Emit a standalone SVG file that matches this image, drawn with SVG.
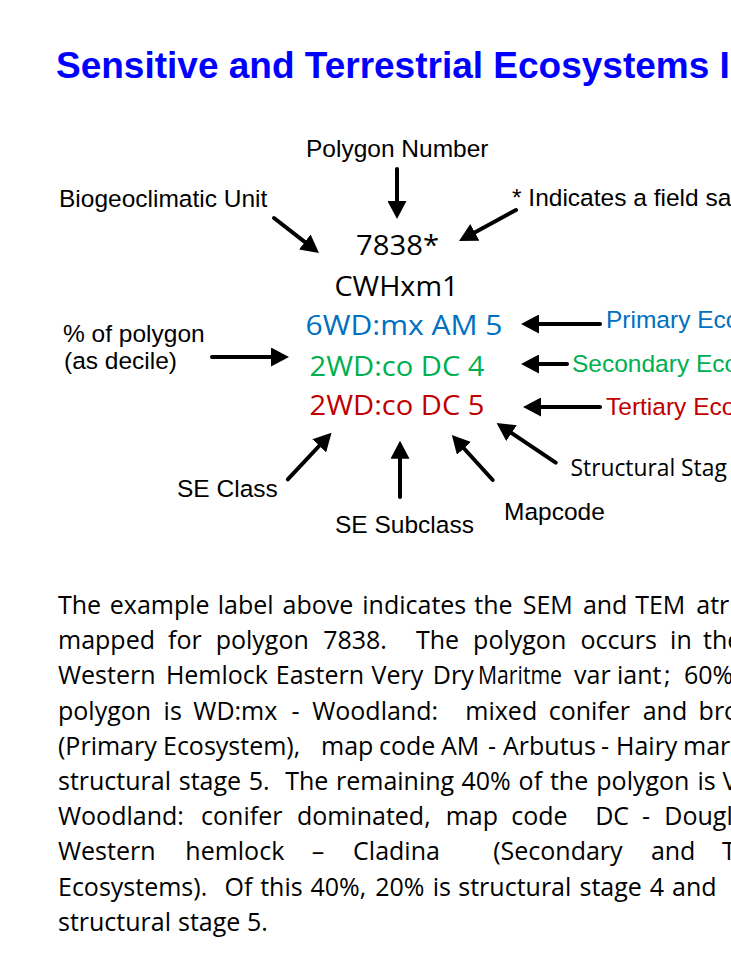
<svg xmlns="http://www.w3.org/2000/svg" width="731" height="969" viewBox="0 0 731 969">
  <style>
    .title { font-family: "Liberation Sans", Arial, sans-serif; font-weight: bold; font-size: 37px; fill: #0000FF; }
    .lbl { font-family: "Liberation Sans", Arial, sans-serif; font-size: 24.5px; fill: #000; }
    .code { font-family: "Open Sans", "Liberation Sans", sans-serif; font-size: 27.5px; fill: #000; }
    .cal { font-family: "Open Sans", "Liberation Sans", sans-serif; font-size: 22.8px; fill: #000; }
    .para { font-family: "Open Sans", "Liberation Sans", sans-serif; font-size: 25px; fill: #000; }
    .blue { fill: #0070C0; }
    .green { fill: #00B050; }
    .red { fill: #C00000; }
    .arrow { stroke: #000; stroke-width: 4; stroke-linecap: round; fill: none; marker-end: url(#ah); }
  </style>
  <defs>
    <marker id="ah" markerUnits="userSpaceOnUse" viewBox="0 0 18 19" markerWidth="18" markerHeight="19" refX="8" refY="9.5" orient="auto">
      <path d="M0,0 L18,9.5 L0,19 Z" fill="#000"/>
    </marker>
  </defs>
  <rect width="731" height="969" fill="#fff"/>

  <g id="title">
    <text class="title" x="56" y="78">Sensitive and Terrestrial Ecosystems I</text>
  </g>

  <!-- central map label -->
  <g id="label-polygon-number-value">
    <text class="code" x="356" y="255" textLength="83" lengthAdjust="spacingAndGlyphs">7838*</text>
  </g>
  <g id="label-bec-value">
    <text class="code" x="334.5" y="296" textLength="124" lengthAdjust="spacingAndGlyphs">CWHxm1</text>
  </g>
  <g id="label-primary">
    <text class="code blue" x="305.5" y="335" textLength="197" lengthAdjust="spacingAndGlyphs">6WD:mx AM 5</text>
  </g>
  <g id="label-secondary">
    <text class="code green" x="309.5" y="376" textLength="175" lengthAdjust="spacingAndGlyphs">2WD:co DC 4</text>
  </g>
  <g id="label-tertiary">
    <text class="code red" x="309.5" y="415" textLength="175" lengthAdjust="spacingAndGlyphs">2WD:co DC 5</text>
  </g>

  <!-- callout texts -->
  <g id="polygon-number">
    <text class="lbl" x="306" y="157">Polygon Number</text>
  </g>
  <g id="biogeoclimatic-unit">
    <text class="lbl" x="59" y="207">Biogeoclimatic Unit</text>
  </g>
  <g id="field-sample">
    <text class="lbl" x="512" y="206">* Indicates a field sa</text>
  </g>
  <g id="percent-of-polygon">
    <text class="lbl" x="63" y="342">% of polygon</text>
    <text class="lbl" x="64" y="369">(as decile)</text>
  </g>
  <g id="primary-ecosystem">
    <text class="lbl blue" x="606" y="328">Primary Eco</text>
  </g>
  <g id="secondary-ecosystem">
    <text class="lbl green" x="572" y="372">Secondary Eco</text>
  </g>
  <g id="tertiary-ecosystem">
    <text class="lbl red" x="606" y="415">Tertiary Eco</text>
  </g>
  <g id="structural-stage">
    <text class="cal" x="570.5" y="476">Structural Stag</text>
  </g>
  <g id="se-class">
    <text class="lbl" x="177" y="497">SE Class</text>
  </g>
  <g id="se-subclass">
    <text class="lbl" x="335" y="533">SE Subclass</text>
  </g>
  <g id="mapcode">
    <text class="lbl" x="504" y="520">Mapcode</text>
  </g>

  <g id="connectors">
    <line class="arrow" x1="397" y1="169" x2="397" y2="209"/>
    <line class="arrow" x1="274" y1="218" x2="311.1" y2="246.9"/>
    <line class="arrow" x1="516" y1="210" x2="467.8" y2="236.2"/>
    <line class="arrow" x1="212" y1="357" x2="279" y2="357"/>
    <line class="arrow" x1="600" y1="324" x2="531" y2="324"/>
    <line class="arrow" x1="567" y1="364" x2="531" y2="364"/>
    <line class="arrow" x1="600" y1="407" x2="533" y2="407"/>
    <line class="arrow" x1="555.7" y1="462.7" x2="504.9" y2="428.6"/>
    <line class="arrow" x1="492.7" y1="480" x2="458.6" y2="442.5"/>
    <line class="arrow" x1="400" y1="497" x2="400" y2="450.7"/>
    <line class="arrow" x1="287.8" y1="479.3" x2="324.7" y2="440"/>
  </g>

  <!-- explanatory paragraph, justified word by word -->
  <g id="description">
    <text class="para" y="614"><tspan x="58">The</tspan><tspan x="109.8">example</tspan><tspan x="217.8">label</tspan><tspan x="282.5">above</tspan><tspan x="362.3">indicates</tspan><tspan x="474.3">the</tspan><tspan x="522.7">SEM</tspan><tspan x="582.9">and</tspan><tspan x="635.2">TEM</tspan><tspan x="696.3">atr</tspan></text>
    <text class="para" y="649.2"><tspan x="58">mapped</tspan><tspan x="168.1">for</tspan><tspan x="215.7">polygon</tspan><tspan x="323.2">7838.</tspan><tspan x="416">The</tspan><tspan x="473.1">polygon</tspan><tspan x="580.5">occurs</tspan><tspan x="670.1">in</tspan><tspan x="703">the</tspan></text>
    <text class="para" y="684.4"><tspan x="58">Western</tspan><tspan x="165.9">Hemlock</tspan><tspan x="275.8">Eastern</tspan><tspan x="371.6">Very</tspan><tspan x="432.8">Dry</tspan></text>
    <text class="para" x="478" y="684.4" textLength="84" lengthAdjust="spacingAndGlyphs">Maritme</text>
    <text class="para" y="684.4"><tspan x="574">var</tspan><tspan x="617">iant</tspan><tspan x="664">;</tspan><tspan x="684">60%</tspan></text>
    <text class="para" y="719.6"><tspan x="58">polygon</tspan><tspan x="163.6">is</tspan><tspan x="193.3">WD:mx</tspan><tspan x="291.6">-</tspan><tspan x="312.2">Woodland:</tspan><tspan x="465.3">mixed</tspan><tspan x="548.7">conifer</tspan><tspan x="642.7">and</tspan><tspan x="698.6">bro</tspan></text>
    <text class="para" y="754.8"><tspan x="58">(Primary</tspan><tspan x="163">Ecosystem),</tspan><tspan x="321">map</tspan><tspan x="379">code</tspan><tspan x="441">AM</tspan><tspan x="488">-</tspan><tspan x="503">Arbutus</tspan><tspan x="601">-</tspan><tspan x="616">Hairy</tspan><tspan x="683">mar</tspan></text>
    <text class="para" y="790"><tspan x="58">structural</tspan><tspan x="178.8">stage</tspan><tspan x="248.7">5.</tspan><tspan x="285.2">The</tspan><tspan x="336">remaining</tspan><tspan x="461.5">40%</tspan><tspan x="518.6">of</tspan><tspan x="549.9">the</tspan><tspan x="596.3">polygon</tspan><tspan x="697.4">is</tspan><tspan x="722.5">V</tspan></text>
    <text class="para" y="825.2"><tspan x="58">Woodland:</tspan><tspan x="201.1">conifer</tspan><tspan x="296.9">dominated,</tspan><tspan x="445.7">map</tspan><tspan x="511.2">code</tspan><tspan x="595.2">DC</tspan><tspan x="641.9">-</tspan><tspan x="664.3">Dougl</tspan></text>
    <text class="para" y="860.4"><tspan x="58">Western</tspan><tspan x="185.3">hemlock</tspan><tspan x="311.7">–</tspan><tspan x="353.1">Cladina</tspan><tspan x="493.2">(Secondary</tspan><tspan x="650.9">and</tspan><tspan x="721.9">T</tspan></text>
    <text class="para" y="895.6"><tspan x="58">Ecosystems).</tspan><tspan x="224.6">Of</tspan><tspan x="260.2">this</tspan><tspan x="310.5">40%,</tspan><tspan x="375.2">20%</tspan><tspan x="432.7">is</tspan><tspan x="458.3">structural</tspan><tspan x="579.5">stage</tspan><tspan x="649.8">4</tspan><tspan x="672.1">and</tspan></text>
    <text class="para" y="930.8"><tspan x="58">structural</tspan><tspan x="178">stage</tspan><tspan x="247">5.</tspan></text>
  </g>
</svg>
